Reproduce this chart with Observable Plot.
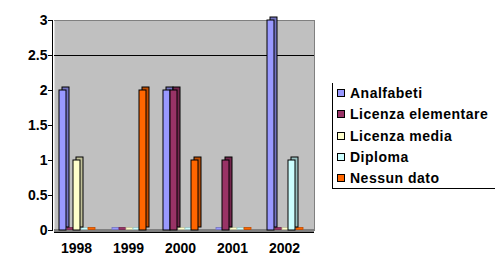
<!DOCTYPE html>
<html><head><meta charset="utf-8">
<script src="https://cdn.jsdelivr.net/npm/d3@7"></script>
<script src="https://cdn.jsdelivr.net/npm/@observablehq/plot@0.6"></script>
<style>
body{margin:0;background:#fff;font-family:"Liberation Sans",Arial,sans-serif;}
#wrap{position:relative;width:500px;height:269px;}
#legend{position:absolute;left:332px;top:83px;width:163px;height:106px;border-left:1px solid #000;border-bottom:1px solid #000;box-sizing:border-box;}
.item{position:absolute;left:4px;height:18px;display:flex;align-items:center;font-weight:bold;font-size:14px;letter-spacing:0.5px;color:#000;white-space:nowrap;}
.sw{width:6px;height:6px;border:1px solid #000;margin-right:5px;}
</style></head><body><div id="wrap"><div id="legend"></div></div>
<script>
const years = ["1998","1999","2000","2001","2002"];
const seriesNames = ["Analfabeti","Licenza elementare","Licenza media","Diploma","Nessun dato"];
const seriesColors = ["#9999FF","#993366","#FFFFCC","#CCFFFF","#FF6600"];
const analfabeti = [2,0,2,0,3];
const licenzaElementare = [0,0,2,1,0];
const licenzaMedia = [1,0,0,0,0];
const diploma = [0,0,0,0,1];
const nessunDato = [0,2,1,0,0];
const yTicks = [0,0.5,1,1.5,2,2.5,3];

const seriesValues = [analfabeti, licenzaElementare, licenzaMedia, diploma, nessunDato];
const rows = [];
years.forEach((yr, i) => seriesNames.forEach((s, j) => rows.push({
  year: yr, series: s, value: seriesValues[j][i],
  color: seriesColors[j],
  dark: d3.color(seriesColors[j]).darker(0.8).formatHex()
})));
const posRows = rows.filter(d => d.value > 0);
const zeroRows = rows.filter(d => d.value === 0);

const chart = Plot.plot({
  width: 500, height: 269,
  marginLeft: 52, marginRight: 185, marginTop: 20, marginBottom: 39,
  style: {fontFamily: "Liberation Sans, Arial, sans-serif", color: "#000", background: "transparent"},
  fx: {domain: years, padding: 0, label: null},
  x: {domain: seriesNames, paddingInner: 0, paddingOuter: 0.79, align: 0.32, axis: null},
  y: {domain: [0, 3], label: null},
  color: {type: "identity"},
  marks: [
    Plot.frame({fill: "#C0C0C0", stroke: null, facet: "super"}),
    Plot.frame({anchor: "top", stroke: "#808080", facet: "super"}),
    Plot.frame({anchor: "right", stroke: "#808080", facet: "super"}),
    Plot.ruleY([2.5], {stroke: "#000", strokeWidth: 1.2}),
    Plot.ruleY([0], {stroke: "#808080", strokeWidth: 3}),
    Plot.ruleY([0], {stroke: "#000", strokeWidth: 1, dy: 2}),
    Plot.frame({anchor: "left", stroke: "#000", dx: -2, facet: "super"}),
    Plot.barY(zeroRows, {fx: "year", x: "series", y: "value", fill: "color", stroke: "dark", strokeWidth: 0.8, insetTop: -2, dx: 1, dy: -0.5}),
    Plot.barY(posRows, {fx: "year", x: "series", y: "value", fill: "dark", stroke: "#000", strokeWidth: 1, dx: 3, dy: -3}),
    Plot.barY(posRows, {fx: "year", x: "series", y: "value", fill: "color", stroke: "#000", strokeWidth: 1}),
    Plot.axisY({ticks: yTicks, tickFormat: d => String(d), tickSize: 4, tickPadding: 1, dx: -2, fontSize: 14, fontWeight: "bold", label: null}),
    Plot.axisFx({anchor: "bottom", tickSize: 0, tickPadding: 13, dx: -4, fontSize: 14, fontWeight: "bold", label: null})
  ]
});
document.getElementById("wrap").prepend(chart);

const legend = document.getElementById("legend");
seriesNames.forEach((s, j) => {
  const it = document.createElement("div");
  it.className = "item";
  it.style.top = (1 + j * 21.3) + "px";
  const sw = document.createElement("div");
  sw.className = "sw";
  sw.style.background = seriesColors[j];
  it.appendChild(sw);
  it.appendChild(document.createTextNode(s));
  legend.appendChild(it);
});
</script></body></html>
